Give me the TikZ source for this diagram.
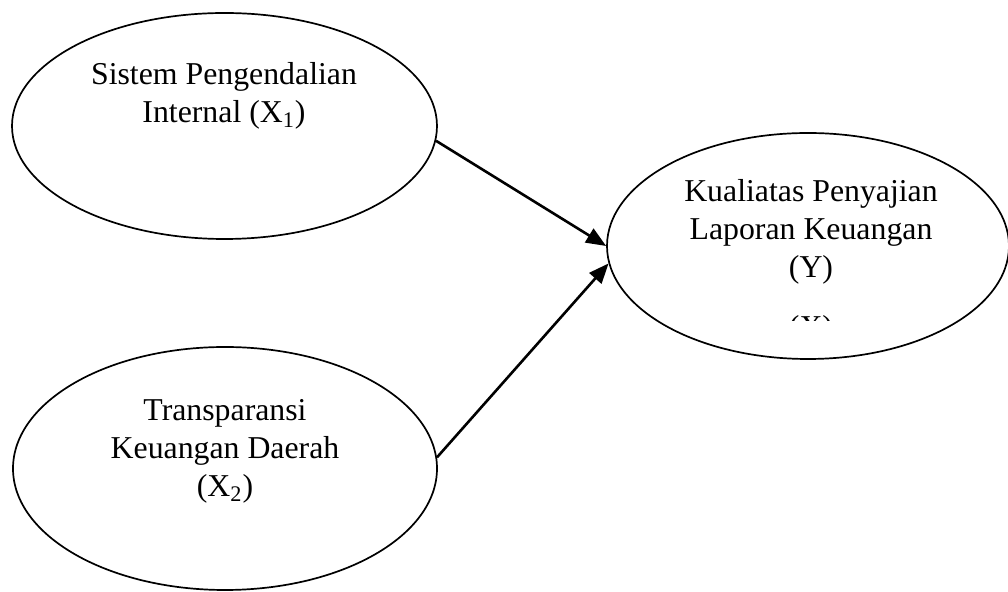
\documentclass[tikz,border=0pt]{standalone}
\usepackage{fontspec}
\setmainfont{Liberation Serif}
\usetikzlibrary{arrows.meta,positioning,shapes.geometric}

\begin{document}
\begin{tikzpicture}[x=0.5pt, y=-0.5pt,
  every node/.style={font=\fontsize{15.9}{19}\selectfont},
  var/.style={draw, ellipse, line width=0.85pt, inner sep=0pt},
  vartext/.style={align=center, inner sep=0pt},
  panah/.style={line width=1.3pt, -{Triangle[length=10pt,width=8pt]}}]
\useasboundingbox (0,0) rectangle (1008,592);
\node[var, minimum width=212.5pt, minimum height=113pt] (sistem) at (224.5,126) {};
\node[var, minimum width=212pt, minimum height=121.5pt] (transparansi) at (225,468.5) {};
\node[var, minimum width=201pt, minimum height=113pt] (kualitas) at (808,246) {};
\node[vartext] (sistemtxt) at (224,95.5) {Sistem Pengendalian\\Internal (X\textsubscript{1})};
\node[vartext] (transparansitxt) at (225,451.5) {Transparansi\\Keuangan Daerah\\(X\textsubscript{2})};
\node[vartext] (kualitastxt) at (811,232) {Kualiatas Penyajian\\Laporan Keuangan\\(Y)};
\begin{scope}
  \clip (790,315) rectangle (832,321);
  \node[anchor=base, inner sep=0pt] (sisa) at (811,338) {(X)};
\end{scope}
\draw[panah] (sistem.-4.6) -- (kualitas.180);
\draw[panah] (transparansi.3) -- (kualitas.185);
\end{tikzpicture}
\end{document}
